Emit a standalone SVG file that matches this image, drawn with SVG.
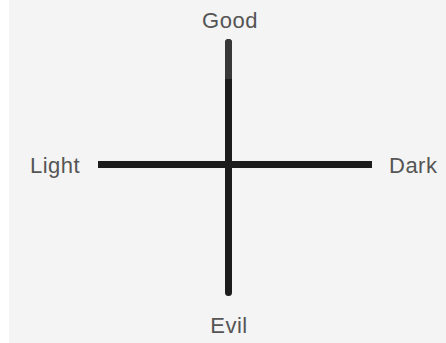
<svg xmlns="http://www.w3.org/2000/svg" width="446" height="343" viewBox="0 0 446 343">
<style>
.lbl{font-family:"Liberation Sans",Arial,sans-serif;font-size:22px;fill:#555555;letter-spacing:0.5px}
.ax{stroke:#1c1c1c;stroke-width:7;fill:none}
</style>
<rect x="0" y="0" width="446" height="343" fill="#ffffff"/>
<rect x="9" y="0" width="437" height="343" fill="#f4f4f4"/>
<g id="connectors">
<line class="ax" x1="228.5" y1="42.5" x2="228.5" y2="292.5" stroke-linecap="round"/>
<line x1="228.5" y1="42.5" x2="228.5" y2="79" stroke="#383838" stroke-width="7"/>
<circle cx="228.5" cy="42.5" r="3.5" fill="#383838"/>
<line class="ax" x1="98" y1="164.5" x2="372" y2="164.5"/>
</g>
<g id="good"><text class="lbl" x="230" y="28" text-anchor="middle">Good</text></g>
<g id="light"><text class="lbl" x="30" y="173">Light</text></g>
<g id="dark"><text class="lbl" x="389" y="173">Dark</text></g>
<g id="evil"><text class="lbl" x="229" y="333" text-anchor="middle">Evil</text></g>
</svg>
